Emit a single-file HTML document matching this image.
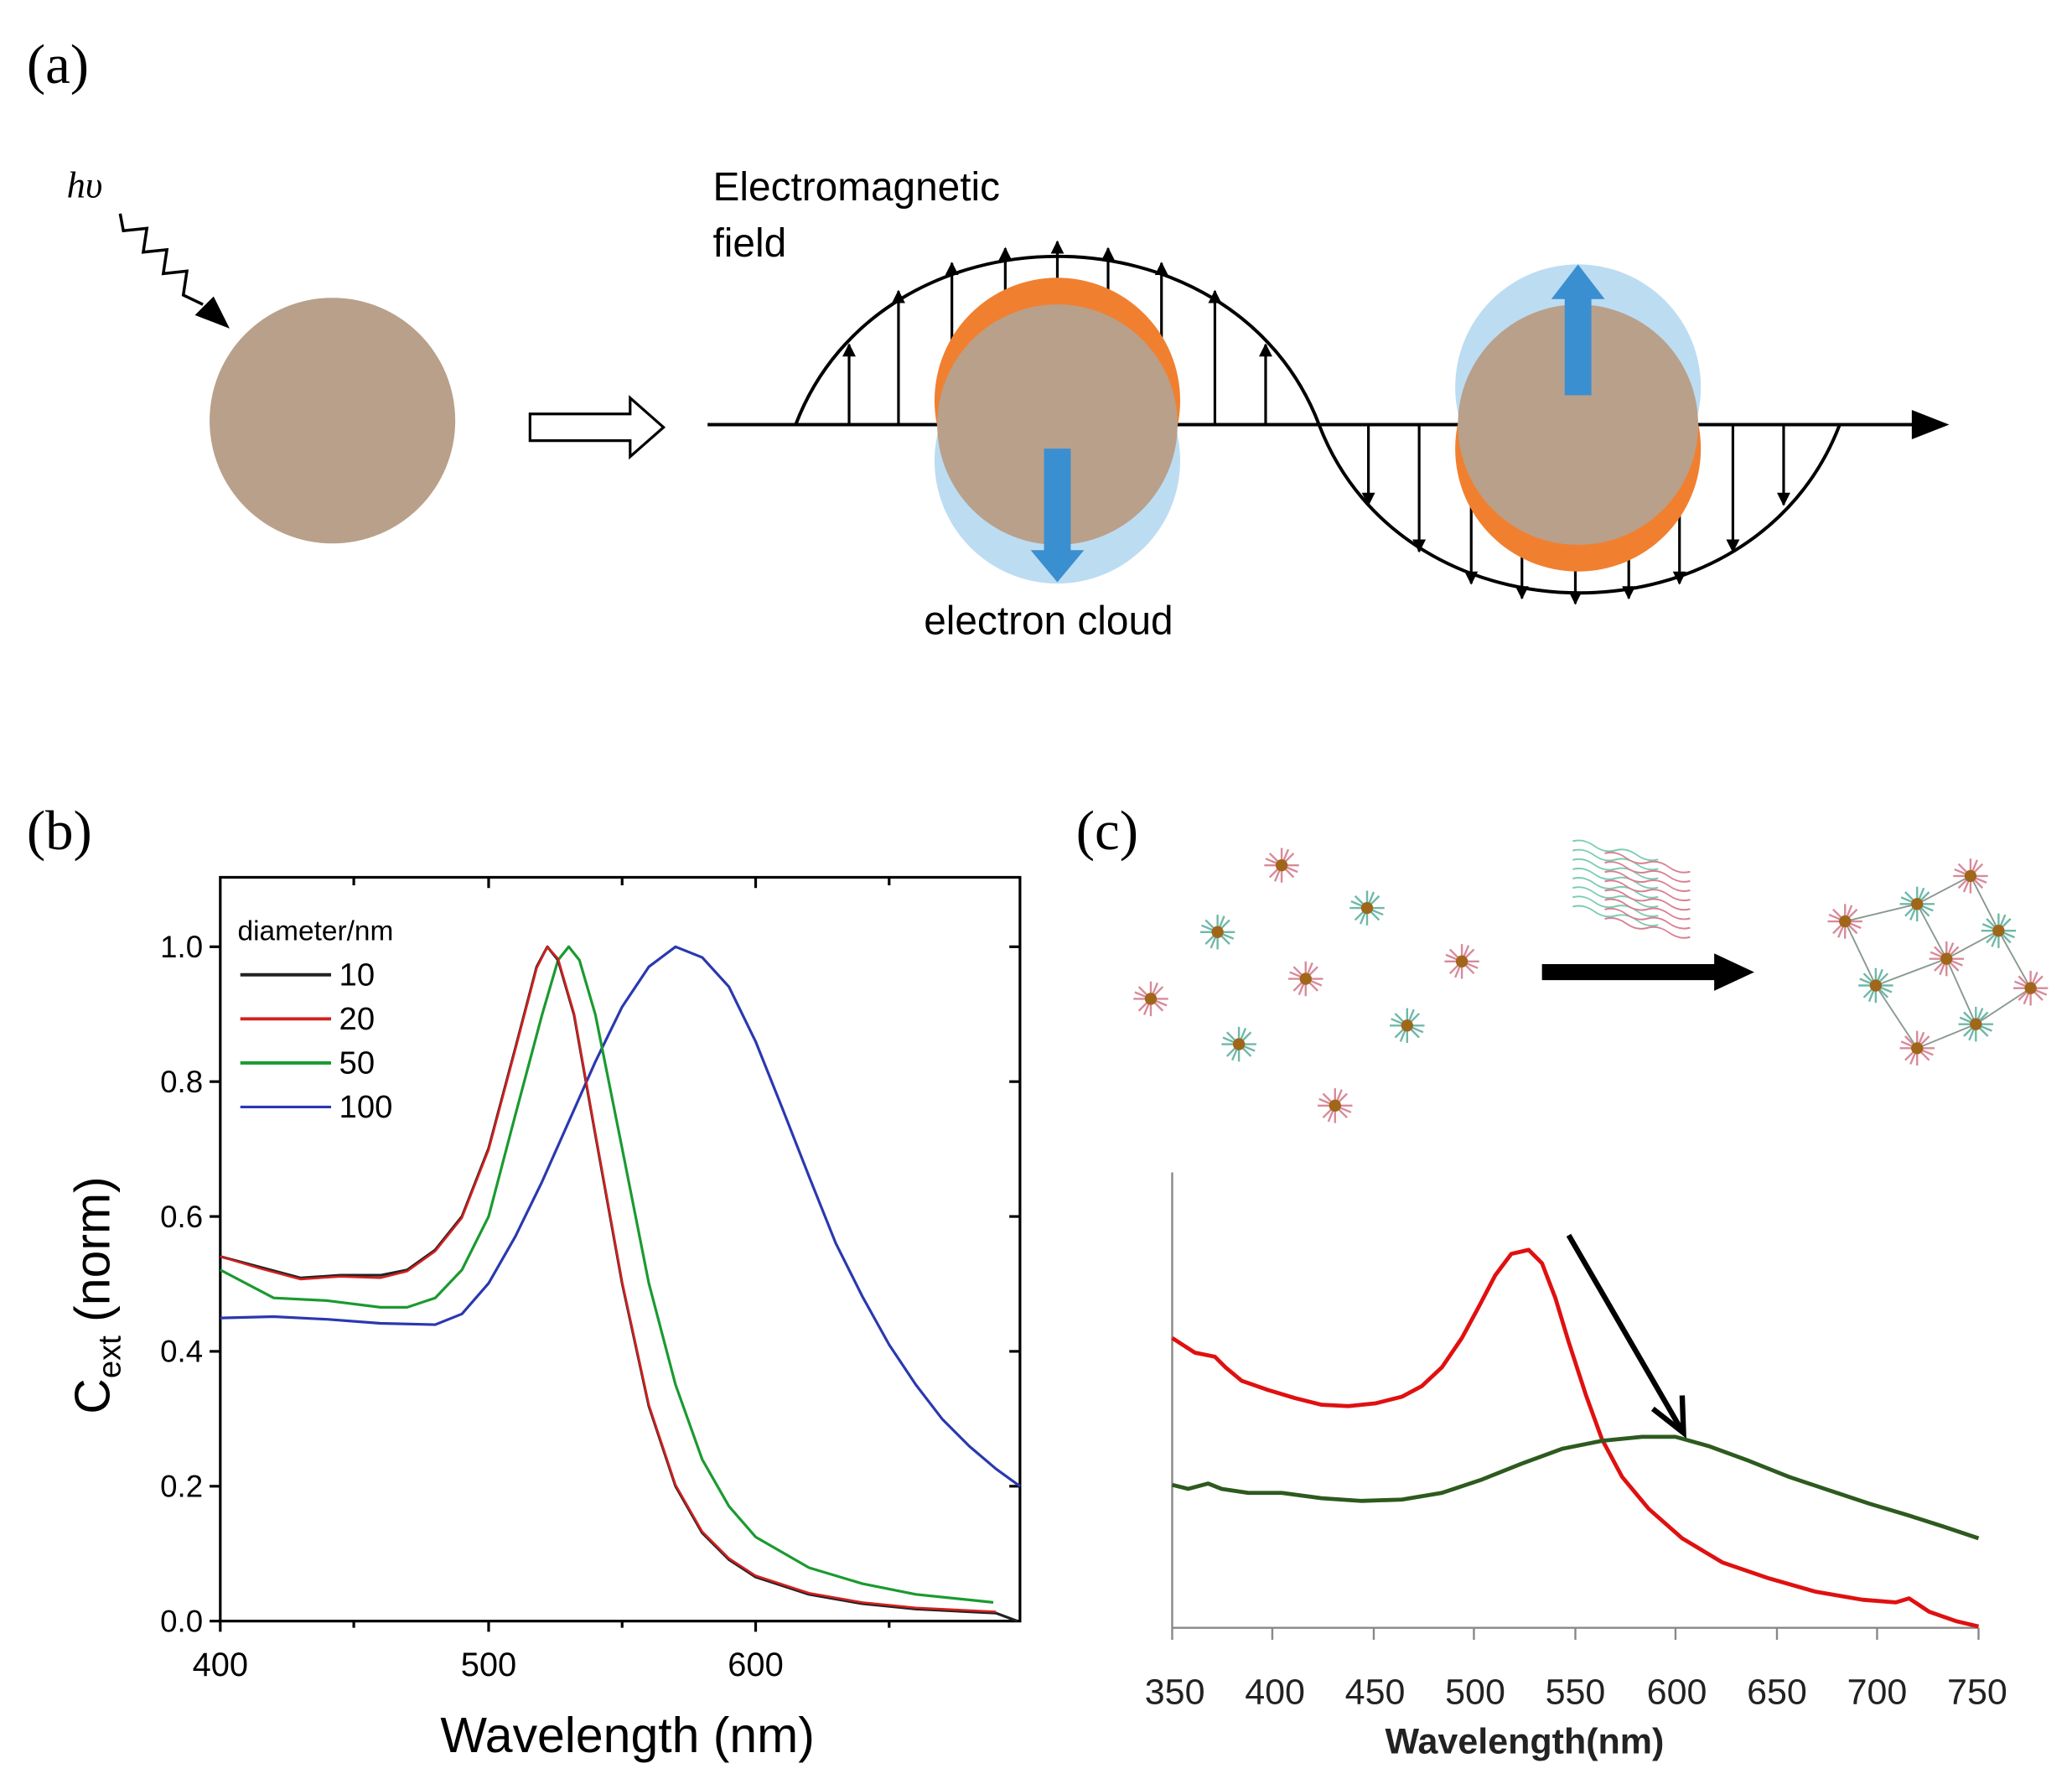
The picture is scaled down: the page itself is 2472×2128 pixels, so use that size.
<!DOCTYPE html>
<html><head><meta charset="utf-8"><style>html,body{margin:0;padding:0;background:#fff}svg{display:block}</style></head>
<body>
<svg width="2472" height="2128" viewBox="0 0 1552 1336" preserveAspectRatio="none" xmlns="http://www.w3.org/2000/svg" font-family="Liberation Sans, sans-serif">
<defs>
<marker id="ah" markerWidth="10" markerHeight="14" refX="9" refY="5" orient="auto" markerUnits="userSpaceOnUse"><path d="M0,0 L10,5 L0,10 Z" fill="#000"/></marker>
<marker id="ah2" markerWidth="14" markerHeight="14" refX="12" refY="7" orient="auto" markerUnits="userSpaceOnUse"><path d="M0,0 L14,7 L0,14 Z" fill="#000"/></marker>
<g id="starP"><g stroke="#d88a9a" stroke-width="1.5"><line x1="-13" y1="0" x2="13" y2="0"/><line x1="0" y1="-13" x2="0" y2="13"/><line x1="-9" y1="-9" x2="9" y2="9"/><line x1="-9" y1="9" x2="9" y2="-9"/><line x1="-12" y1="-5" x2="12" y2="5"/><line x1="-5" y1="12" x2="5" y2="-12"/></g><circle r="4.5" fill="#a0661a"/></g>
<g id="starT"><g stroke="#6fb8a8" stroke-width="1.5"><line x1="-13" y1="0" x2="13" y2="0"/><line x1="0" y1="-13" x2="0" y2="13"/><line x1="-9" y1="-9" x2="9" y2="9"/><line x1="-9" y1="9" x2="9" y2="-9"/><line x1="-12" y1="-5" x2="12" y2="5"/><line x1="-5" y1="12" x2="5" y2="-12"/></g><circle r="4.5" fill="#a0661a"/></g>
</defs>

<g font-family="Liberation Serif, serif" font-size="42">
<text x="20" y="62">(a)</text><text x="20" y="636">(b)</text><text x="806" y="636">(c)</text></g>

<!-- panel a -->
<text x="50" y="148" font-size="28" font-style="italic" font-family="Liberation Serif, serif">hυ</text>
<polyline points="90,160 92.4,172.8 110,171 107.3,188.8 125,187 122.3,204.9 140,203 137.3,221 152,228" fill="none" stroke="#000" stroke-width="2.2"/>
<path d="M172,246 l-26,-10 l14,-14 z" fill="#000"/>
<circle cx="249" cy="315" r="92" fill="#b9a08a"/>
<path d="M397,310 h75 v-12 l25,22 l-25,22 v-12 h-75 z" fill="#fff" stroke="#000" stroke-width="2"/>
<line x1="530" y1="318" x2="1440" y2="318" stroke="#000" stroke-width="2.5"/>
<path d="M1460,318 l-28,-11 l0,22 z" fill="#000"/>
<path d="M596,318 C660,150 924,150 988,318 C1052,486 1314,486 1378,318" fill="none" stroke="#000" stroke-width="2.5"/>
<g stroke="#000" stroke-width="2" marker-end="url(#ah)">
<line x1="636" y1="318" x2="636" y2="258"/><line x1="673" y1="318" x2="673" y2="218"/><line x1="713" y1="318" x2="713" y2="197"/><line x1="753" y1="318" x2="753" y2="186"/><line x1="792" y1="318" x2="792" y2="181"/><line x1="830" y1="318" x2="830" y2="186"/><line x1="870" y1="318" x2="870" y2="197"/><line x1="910" y1="318" x2="910" y2="218"/><line x1="948" y1="318" x2="948" y2="258"/>
<line x1="1025" y1="318" x2="1025" y2="378"/><line x1="1063" y1="318" x2="1063" y2="413"/><line x1="1102" y1="318" x2="1102" y2="437"/><line x1="1140" y1="318" x2="1140" y2="448"/><line x1="1180" y1="318" x2="1180" y2="452"/><line x1="1220" y1="318" x2="1220" y2="448"/><line x1="1258" y1="318" x2="1258" y2="437"/><line x1="1298" y1="318" x2="1298" y2="413"/><line x1="1336" y1="318" x2="1336" y2="378"/>
</g>
<circle cx="792" cy="345" r="92" fill="#bcdcf2"/>
<circle cx="792" cy="300" r="92" fill="#f08030"/>
<circle cx="792" cy="318" r="90" fill="#b9a08a"/>
<rect x="782" y="336" width="20" height="80" fill="#3a8fd0"/><path d="M772,412 h40 l-20,24 z" fill="#3a8fd0"/>
<circle cx="1182" cy="290" r="92" fill="#bcdcf2"/>
<circle cx="1182" cy="336" r="92" fill="#f08030"/>
<circle cx="1182" cy="318" r="90" fill="#b9a08a"/>
<rect x="1172" y="220" width="20" height="76" fill="#3a8fd0"/><path d="M1162,224 h40 l-20,-26 z" fill="#3a8fd0"/>
<text x="534" y="150" font-size="30">Electromagnetic</text>
<text x="534" y="192" font-size="30">field</text>
<text x="692" y="475" font-size="30">electron cloud</text>

<!-- panel b -->
<rect x="165" y="657" width="599" height="557" fill="none" stroke="#000" stroke-width="2"/>
<g stroke="#000" stroke-width="2">
<line x1="165" y1="1214" x2="165" y2="1222"/><line x1="366" y1="1214" x2="366" y2="1222"/><line x1="566" y1="1214" x2="566" y2="1222"/>
<line x1="265" y1="1214" x2="265" y2="1219"/><line x1="466" y1="1214" x2="466" y2="1219"/><line x1="666" y1="1214" x2="666" y2="1219"/>
<line x1="157" y1="1214" x2="165" y2="1214"/><line x1="157" y1="1113" x2="165" y2="1113"/><line x1="157" y1="1012" x2="165" y2="1012"/><line x1="157" y1="911" x2="165" y2="911"/><line x1="157" y1="810" x2="165" y2="810"/><line x1="157" y1="709" x2="165" y2="709"/>
<line x1="756" y1="1113" x2="764" y2="1113"/><line x1="756" y1="1012" x2="764" y2="1012"/><line x1="756" y1="911" x2="764" y2="911"/><line x1="756" y1="810" x2="764" y2="810"/><line x1="756" y1="709" x2="764" y2="709"/>
<line x1="265" y1="657" x2="265" y2="663"/><line x1="366" y1="657" x2="366" y2="665"/><line x1="466" y1="657" x2="466" y2="663"/><line x1="566" y1="657" x2="566" y2="665"/><line x1="666" y1="657" x2="666" y2="663"/>
</g>
<g font-size="23" text-anchor="end">
<text x="152" y="1222">0.0</text><text x="152" y="1121">0.2</text><text x="152" y="1020">0.4</text><text x="152" y="919">0.6</text><text x="152" y="818">0.8</text><text x="152" y="717">1.0</text></g>
<g font-size="25" text-anchor="middle"><text x="165" y="1255">400</text><text x="366" y="1255">500</text><text x="566" y="1255">600</text></g>
<text x="470" y="1312" font-size="37" text-anchor="middle">Wavelength (nm)</text>
<text transform="translate(82,970) rotate(-90)" font-size="37" text-anchor="middle">C<tspan font-size="24" dy="8">ext</tspan><tspan dy="-8"> (norm)</tspan></text>
<text x="178" y="704" font-size="21">diameter/nm</text>
<g stroke-width="2.5">
<line x1="180" y1="730" x2="248" y2="730" stroke="#222"/><line x1="180" y1="763" x2="248" y2="763" stroke="#d42020"/><line x1="180" y1="796" x2="248" y2="796" stroke="#1a9a30"/><line x1="180" y1="829" x2="248" y2="829" stroke="#2a38b0" stroke-width="2"/></g>
<g font-size="24"><text x="254" y="738">10</text><text x="254" y="771">20</text><text x="254" y="804">50</text><text x="254" y="837">100</text></g>
<g fill="none" stroke-linejoin="round" stroke-width="2">
<polyline stroke="#2a38b0" points="165,987 205,986 245,988 285,991 326,992 346,984 366,961 386,926 406,885 426,840 446,795 466,754 486,724 506,709 526,717 546,739 566,780 586,830 606,881 626,931 646,971 666,1007 686,1037 706,1063 726,1083 746,1100 764,1113"/>
<polyline stroke="#1a9a30" points="165,951 205,972 245,974 285,979 305,979 326,972 346,951 366,911 386,835 406,760 418,719 426,709 434,719 446,760 466,860 486,961 506,1037 526,1093 546,1128 566,1151 606,1174 646,1186 686,1194 744,1200"/>
<polyline stroke="#222" points="165,941 195,949 225,957 255,955 285,955 305,951 326,936 346,911 366,860 386,785 402,724 410,709 418,719 430,760 446,850 466,961 486,1053 506,1113 526,1148 546,1168 566,1181 606,1194 646,1201 686,1205 746,1208 762,1214"/>
<polyline stroke="#d42020" stroke-width="1.6" points="165,941 195,950 225,958 255,956 285,957 305,952 326,937 346,912 366,861 386,786 402,725 410,709 418,718 430,759 446,849 466,960 486,1052 506,1112 526,1147 546,1167 566,1180 606,1193 646,1200 686,1204 746,1207"/>
</g>

<!-- panel c top illustration -->
<use href="#starP" x="960" y="648"/><use href="#starP" x="1095" y="720"/><use href="#starP" x="978" y="733"/><use href="#starP" x="862" y="748"/><use href="#starP" x="1000" y="828"/>
<use href="#starT" x="912" y="698"/><use href="#starT" x="1024" y="680"/><use href="#starT" x="928" y="782"/><use href="#starT" x="1054" y="768"/>
<g fill="none" stroke-width="1.2" transform="translate(1178,630) skewY(12)">
<path d="M0,0 q8,-4 16,0 t16,0 t16,0 t16,0 M0,7 q8,-4 16,0 t16,0 t16,0 t16,0 M0,14 q8,-4 16,0 t16,0 t16,0 t16,0 M0,21 q8,-4 16,0 t16,0 t16,0 t16,0 M0,28 q8,-4 16,0 t16,0 t16,0 t16,0 M0,35 q8,-4 16,0 t16,0 t16,0 t16,0 M0,42 q8,-4 16,0 t16,0 t16,0 t16,0 M0,49 q8,-4 16,0 t16,0 t16,0 t16,0" stroke="#7ccbb4"/>
<path d="M24,4 q8,-4 16,0 t16,0 t16,0 t16,0 M24,11 q8,-4 16,0 t16,0 t16,0 t16,0 M24,18 q8,-4 16,0 t16,0 t16,0 t16,0 M24,25 q8,-4 16,0 t16,0 t16,0 t16,0 M24,32 q8,-4 16,0 t16,0 t16,0 t16,0 M24,39 q8,-4 16,0 t16,0 t16,0 t16,0 M24,46 q8,-4 16,0 t16,0 t16,0 t16,0 M24,53 q8,-4 16,0 t16,0 t16,0 t16,0" stroke="#d97f90"/>
</g>
<rect x="1155" y="722" width="132" height="12" fill="#000"/><path d="M1284,714 l30,14 l-30,14 z" fill="#000"/>
<g stroke="#8a9a90" stroke-width="1.2" fill="none">
<polyline points="1382,690 1436,677 1476,656 1497,697 1521,740 1480,767 1436,785 1405,738 1382,690"/>
<polyline points="1436,677 1458,718 1497,697"/><polyline points="1405,738 1458,718 1480,767"/></g>
<use href="#starP" x="1382" y="690"/><use href="#starT" x="1436" y="677"/><use href="#starP" x="1476" y="656"/><use href="#starT" x="1497" y="697"/><use href="#starP" x="1458" y="718"/><use href="#starT" x="1405" y="738"/><use href="#starP" x="1521" y="740"/><use href="#starT" x="1480" y="767"/><use href="#starP" x="1436" y="785"/>

<!-- panel c chart -->
<line x1="878" y1="878" x2="878" y2="1219" stroke="#888" stroke-width="1.5"/>
<line x1="878" y1="1219" x2="1482" y2="1219" stroke="#888" stroke-width="1.5"/>
<g stroke="#888" stroke-width="1.5">
<line x1="878" y1="1219" x2="878" y2="1228"/><line x1="953" y1="1219" x2="953" y2="1228"/><line x1="1029" y1="1219" x2="1029" y2="1228"/><line x1="1104" y1="1219" x2="1104" y2="1228"/><line x1="1180" y1="1219" x2="1180" y2="1228"/><line x1="1255" y1="1219" x2="1255" y2="1228"/><line x1="1331" y1="1219" x2="1331" y2="1228"/><line x1="1406" y1="1219" x2="1406" y2="1228"/><line x1="1482" y1="1219" x2="1482" y2="1228"/></g>
<g font-size="27" text-anchor="middle" fill="#222"><text x="880" y="1276">350</text><text x="955" y="1276">400</text><text x="1030" y="1276">450</text><text x="1105" y="1276">500</text><text x="1180" y="1276">550</text><text x="1256" y="1276">600</text><text x="1331" y="1276">650</text><text x="1406" y="1276">700</text><text x="1481" y="1276">750</text></g>
<text x="1142" y="1313" font-size="27" font-weight="bold" text-anchor="middle" fill="#222">Wavelength(nm)</text>
<g fill="none" stroke-width="3" stroke-linejoin="round">
<polyline stroke="#e01010" points="878,1002 895,1013 910,1016 918,1024 930,1034 950,1041 970,1047 990,1052 1010,1053 1030,1051 1050,1046 1065,1038 1080,1024 1095,1002 1108,978 1120,955 1132,939 1145,936 1155,946 1165,972 1175,1005 1188,1045 1200,1078 1215,1106 1235,1130 1260,1152 1290,1170 1325,1182 1360,1192 1395,1198 1420,1200 1430,1197 1445,1207 1465,1214 1482,1218"/>
<polyline stroke="#2d5a1e" points="878,1112 890,1115 905,1111 915,1115 935,1118 960,1118 990,1122 1020,1124 1050,1123 1080,1118 1110,1108 1140,1096 1170,1085 1200,1079 1230,1076 1255,1076 1280,1083 1310,1094 1340,1106 1370,1116 1400,1126 1430,1135 1455,1143 1482,1152"/>
</g>
<line x1="1175" y1="925" x2="1259" y2="1070" stroke="#000" stroke-width="4"/>
<path d="M1238,1055 L1261,1073 L1260,1045" fill="none" stroke="#000" stroke-width="4"/>
</svg>
</body></html>
